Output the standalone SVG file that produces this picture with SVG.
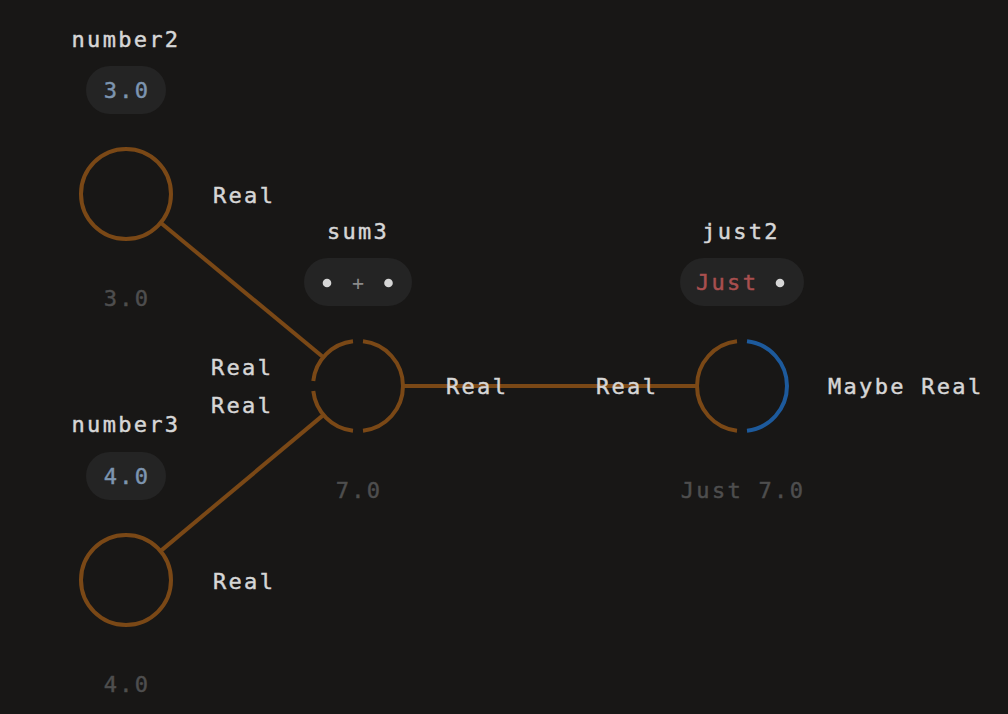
<svg xmlns="http://www.w3.org/2000/svg" width="1008" height="714" viewBox="0 0 1008 714">
<style>
text{font-family:"DejaVu Sans Mono","Liberation Mono",monospace;font-size:22px;letter-spacing:2.3px;stroke-width:0.45px}
.lbl{fill:#d6d6d6;stroke:#d6d6d6}
.mid{text-anchor:middle}
.val{fill:#4e4e4e;stroke:#4e4e4e}
.lit{fill:#7d95b0;stroke:#7d95b0}
.red{fill:#a94f4f;stroke:#a94f4f}
.op{fill:#8a8a8a}
.pill{fill:#242424}
.dot{fill:#d6d6d6}
.o{fill:none;stroke:#7a4816;stroke-width:4}
.b{fill:none;stroke:#1d5a9c;stroke-width:4}
</style>
<rect width="1008" height="714" fill="#181716"/>
<g id="connectors" class="o">
<line x1="160.7" y1="222.7" x2="323.3" y2="357.3"/>
<line x1="160.5" y1="551.1" x2="323.5" y2="414.9"/>
<line x1="403" y1="386" x2="697" y2="386"/>
</g>
<g id="number2">
<text class="lbl mid" x="126" y="47">number2</text>
<rect class="pill" x="86" y="66" width="80" height="48" rx="24"/>
<text class="lit mid" x="127" y="98">3.0</text>
<circle class="o" cx="126" cy="194" r="45"/>
<text class="lbl" x="213" y="203">Real</text>
<text class="val mid" x="127" y="306">3.0</text>
</g>
<g id="number3">
<text class="lbl mid" x="126" y="432">number3</text>
<rect class="pill" x="86" y="452" width="80" height="48" rx="24"/>
<text class="lit mid" x="127" y="484">4.0</text>
<circle class="o" cx="126" cy="580" r="45"/>
<text class="lbl" x="213" y="589">Real</text>
<text class="val mid" x="127" y="692">4.0</text>
</g>
<g id="sum3">
<text class="lbl mid" x="358" y="239">sum3</text>
<rect class="pill" x="304" y="258" width="108" height="48" rx="24"/>
<circle class="dot" cx="327" cy="283" r="4.3"/>
<text class="op mid" x="358" y="290" style="font-size:20px;letter-spacing:0">+</text>
<circle class="dot" cx="388.5" cy="283" r="4.3"/>
<path class="o" d="M363 341.28A45 45 0 0 1 363 430.72"/>
<path class="o" d="M313.28 381A45 45 0 0 1 353 341.28"/>
<path class="o" d="M353 430.72A45 45 0 0 1 313.28 391"/>
<text class="lbl" x="211" y="375">Real</text>
<text class="lbl" x="211" y="413">Real</text>
<text class="lbl" x="446" y="394">Real</text>
<text class="val mid" x="359" y="498">7.0</text>
</g>
<g id="just2">
<text class="lbl mid" x="741" y="239">just2</text>
<rect class="pill" x="680" y="258" width="124" height="48" rx="24"/>
<text class="red" x="696" y="290">Just</text>
<circle class="dot" cx="780" cy="283" r="4.3"/>
<path class="o" d="M737 430.72A45 45 0 0 1 737 341.28"/>
<path class="b" d="M747 341.28A45 45 0 0 1 747 430.72"/>
<text class="lbl" x="596" y="394">Real</text>
<text class="lbl" x="828" y="394">Maybe Real</text>
<text class="val mid" x="743" y="498">Just 7.0</text>
</g>
</svg>
